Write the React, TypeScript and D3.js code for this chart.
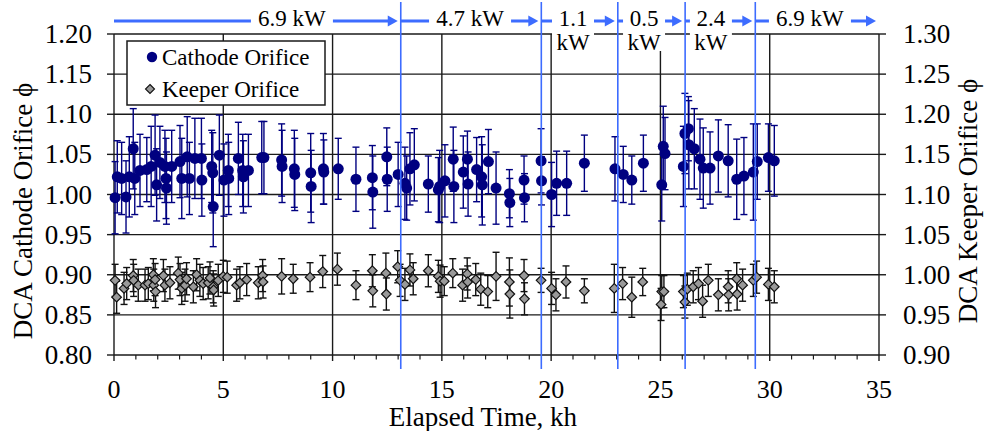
import React from "react";
import * as d3 from "d3";

// ---------- data ----------
const cathodeKh = [0.05,0.15,0.35,0.55,0.7,0.88,0.95,1.19,1.5,1.7,1.88,1.95,2.1,2.33,2.38,2.4,2.64,3.02,3.1,3.35,3.45,3.7,4.0,4.02,4.47,4.52,4.54,4.82,5.03,5.23,5.25,5.69,5.89,5.92,6.15,6.76,6.86,7.67,7.69,8.25,8.27,9.0,9.02,9.58,9.6,10.26,11.07,11.82,11.84,12.48,12.5,13.0,13.31,13.39,13.54,13.74,14.38,14.84,14.9,15.14,15.52,15.55,15.98,16.17,16.2,16.59,16.82,16.85,17.13,17.48,18.09,18.11,18.76,18.78,19.54,19.56,20.02,20.25,20.71,21.52,22.92,23.3,23.69,24.22,25.06,25.13,25.21,26.05,26.12,26.28,26.3,26.55,26.81,26.96,27.27,27.65,28.1,28.49,28.82,29.25,29.43,29.94,30.21];
const cathodePhi = [0.996,1.022,1.02,0.997,1.022,1.057,1.02,1.03,1.031,1.035,1.049,1.012,1.04,1.035,1.02,1.008,1.035,1.041,1.02,1.047,1.02,1.045,1.045,1.018,1.035,1.027,0.985,1.049,1.018,1.03,1.02,1.045,1.03,1.022,1.03,1.046,1.046,1.043,1.035,1.032,1.025,1.027,1.01,1.032,1.028,1.032,1.019,1.021,1.003,1.047,1.019,1.025,1.014,1.008,1.032,1.037,1.013,1.006,1.01,1.017,1.044,1.01,1.028,1.044,1.013,1.031,1.022,1.012,1.041,1.008,1.001,0.99,1.018,0.996,1.042,1.017,1.0,1.014,1.014,1.039,1.032,1.025,1.018,1.039,1.012,1.06,1.051,1.035,1.076,1.082,1.062,1.057,1.044,1.033,1.033,1.048,1.042,1.019,1.023,1.028,1.041,1.046,1.042];
const cathodeErr = [0.045,0.045,0.045,0.045,0.05,0.05,0.045,0.045,0.04,0.05,0.05,0.045,0.045,0.045,0.05,0.045,0.045,0.045,0.05,0.05,0.045,0.05,0.05,0.045,0.045,0.05,0.05,0.05,0.045,0.045,0.045,0.045,0.045,0.045,0.045,0.045,0.045,0.045,0.045,0.048,0.045,0.049,0.045,0.044,0.04,0.038,0.04,0.04,0.045,0.036,0.04,0.04,0.045,0.04,0.045,0.045,0.035,0.04,0.045,0.045,0.04,0.045,0.045,0.035,0.04,0.04,0.05,0.05,0.04,0.045,0.03,0.03,0.03,0.03,0.04,0.03,0.04,0.04,0.04,0.035,0.04,0.035,0.03,0.035,0.045,0.05,0.045,0.05,0.05,0.04,0.055,0.05,0.05,0.05,0.045,0.045,0.045,0.05,0.048,0.06,0.047,0.042,0.044];

const keeperKh = [0.05,0.12,0.46,0.58,0.88,0.9,1.11,1.42,1.57,1.8,1.82,1.88,1.9,2.26,2.33,2.56,2.94,3.02,3.1,3.25,3.32,3.63,3.78,3.93,4.08,4.31,4.39,4.54,4.56,4.77,5.0,5.18,5.61,5.76,6.07,6.6,6.8,6.82,7.67,8.2,8.97,9.55,10.22,11.07,11.82,11.84,12.44,12.46,12.98,13.09,13.31,13.54,13.69,14.38,14.84,14.92,15.11,15.5,15.95,16.16,16.18,16.55,16.78,17.1,17.48,18.09,18.11,18.76,18.78,19.54,20.02,20.22,20.68,21.52,22.89,23.27,23.69,24.19,25.03,25.06,25.16,26.05,26.12,26.23,26.5,26.74,26.93,27.19,27.65,28.1,28.12,28.49,28.51,28.76,29.25,29.4,29.94,30.21];
const keeperPhi = [0.993,0.972,0.983,0.989,0.999,0.993,0.987,0.987,0.989,1.0,0.987,0.994,0.979,0.999,0.987,0.99,1.002,0.994,0.983,0.987,0.995,0.985,1.0,0.993,0.989,0.99,0.996,0.985,0.981,0.993,0.998,0.997,0.987,0.99,0.994,0.99,0.999,0.991,0.998,0.995,0.997,1.004,1.007,0.987,1.005,0.98,1.002,0.976,1.01,0.993,0.988,1.006,0.995,1.005,0.998,0.992,0.992,1.002,0.987,1.001,0.991,0.994,0.982,0.979,0.998,0.991,0.976,0.999,0.97,0.993,0.983,0.975,0.991,0.98,0.983,0.989,0.972,0.991,0.963,0.979,0.979,0.979,0.966,0.982,0.985,0.989,0.967,0.993,0.975,0.985,0.975,0.995,0.976,0.987,0.993,0.997,0.988,0.985];
const keeperErr = [0.02,0.02,0.02,0.02,0.02,0.02,0.02,0.02,0.02,0.02,0.02,0.02,0.02,0.02,0.02,0.02,0.02,0.02,0.02,0.02,0.02,0.02,0.02,0.02,0.02,0.02,0.02,0.02,0.02,0.02,0.02,0.02,0.02,0.02,0.02,0.02,0.02,0.02,0.022,0.018,0.018,0.02,0.02,0.018,0.02,0.02,0.025,0.02,0.02,0.02,0.02,0.02,0.02,0.02,0.02,0.02,0.018,0.018,0.02,0.02,0.02,0.02,0.02,0.02,0.03,0.03,0.03,0.02,0.02,0.015,0.02,0.02,0.02,0.015,0.03,0.02,0.025,0.017,0.02,0.02,0.02,0.02,0.02,0.02,0.02,0.02,0.02,0.02,0.02,0.02,0.02,0.02,0.02,0.02,0.02,0.02,0.02,0.02];

const xTicks = [0, 5, 10, 15, 20, 25, 30, 35];
const yLeftTicks = [0.8, 0.85, 0.9, 0.95, 1.0, 1.05, 1.1, 1.15, 1.2];
const yRightTicks = [0.9, 0.95, 1.0, 1.05, 1.1, 1.15, 1.2, 1.25, 1.3];

const powerChangeKh = [13.12, 19.55, 23.05, 26.13, 29.34];
const powerLabels = [["6.9 kW"], ["4.7 kW"], ["1.1", "kW"], ["0.5", "kW"], ["2.4", "kW"], ["6.9 kW"]];
const powerLabelKh = [8.14, 16.29, 21.0, 24.25, 27.31, 31.84];

// ---------- layout ----------
const W = 984, H = 431;
const x = d3.scaleLinear().domain([0, 35]).range([114, 879]);
const yL = d3.scaleLinear().domain([0.8, 1.2]).range([355, 34]);
const yR = d3.scaleLinear().domain([0.9, 1.3]).range([355, 34]);
const FONT = "Liberation Serif, Tinos, DejaVu Serif, serif";
const BLUE = "#3d6cff";
const NAVY = "#000080";

export default function App() {
  const bounds = [0, ...powerChangeKh, 35];
  const minorTicks = d3.range(0, 36, 1).filter((v) => v % 5 !== 0);
  const arrowY = 21;
  return (
    <div style={{ position: "absolute", left: 0, top: 0 }}>
      <svg width={W} height={H} style={{ display: "block", background: "#fff", fontFamily: FONT }}>
        {/* horizontal gridlines */}
        {yLeftTicks.map((t) => (
          <line key={"h" + t} x1={x(0)} x2={x(35)} y1={yL(t)} y2={yL(t)} stroke="#1a1a1a" strokeWidth={1.4} />
        ))}
        {/* vertical gridlines */}
        {xTicks.map((t) => (
          <line key={"v" + t} x1={x(t)} x2={x(t)} y1={yL(1.2)} y2={yL(0.8)} stroke="#1a1a1a" strokeWidth={1.4} />
        ))}
        {/* axis ticks */}
        {yLeftTicks.map((t) => (
          <line key={"lt" + t} x1={x(0) - 7} x2={x(0)} y1={yL(t)} y2={yL(t)} stroke="#1a1a1a" strokeWidth={1.4} />
        ))}
        {yRightTicks.map((t) => (
          <line key={"rt" + t} x1={x(35)} x2={x(35) + 7} y1={yR(t)} y2={yR(t)} stroke="#1a1a1a" strokeWidth={1.4} />
        ))}
        {xTicks.map((t) => (
          <line key={"xt" + t} x1={x(t)} x2={x(t)} y1={yL(0.8)} y2={yL(0.8) + 6} stroke="#1a1a1a" strokeWidth={1.4} />
        ))}
        {minorTicks.map((t) => (
          <line key={"xm" + t} x1={x(t)} x2={x(t)} y1={yL(0.8)} y2={yL(0.8) + 4.5} stroke="#1a1a1a" strokeWidth={1.2} />
        ))}
        {/* tick labels */}
        {yLeftTicks.map((t) => (
          <text key={"ll" + t} x={92} y={yL(t) + 9} fontSize={27} textAnchor="end" fill="#000">{t.toFixed(2)}</text>
        ))}
        {yRightTicks.map((t) => (
          <text key={"rl" + t} x={903} y={yR(t) + 9} fontSize={27} textAnchor="start" fill="#000">{t.toFixed(2)}</text>
        ))}
        {xTicks.map((t) => (
          <text key={"xl" + t} x={x(t)} y={398} fontSize={26} textAnchor="middle" fill="#000">{t}</text>
        ))}
        {/* axis titles */}
        <text x={483} y={426} fontSize={27} textAnchor="middle">Elapsed Time, kh</text>
        <text transform="translate(32,211) rotate(-90)" fontSize={27} textAnchor="middle">DCA Cathode Orifice ϕ</text>
        <text transform="translate(977,201) rotate(-90)" fontSize={27} textAnchor="middle">DCA Keeper Orifice ϕ</text>

        {/* keeper series */}
        {keeperKh.map((k, i) => {
          const cx = x(k), lo = yR(keeperPhi[i] - keeperErr[i]), hi = yR(keeperPhi[i] + keeperErr[i]);
          return (
            <g key={"ke" + i} stroke="#111" strokeWidth={1.4}>
              <line x1={cx} x2={cx} y1={lo} y2={hi} />
              <line x1={cx - 3.5} x2={cx + 3.5} y1={lo} y2={lo} />
              <line x1={cx - 3.5} x2={cx + 3.5} y1={hi} y2={hi} />
            </g>
          );
        })}
        {keeperKh.map((k, i) => {
          const cx = x(k), cy = yR(keeperPhi[i]), r = 4.8;
          return (
            <path key={"km" + i} d={`M${cx},${cy - r}L${cx + r},${cy}L${cx},${cy + r}L${cx - r},${cy}Z`} fill="#999" stroke="#111" strokeWidth={1.2} />
          );
        })}
        {/* cathode series */}
        {cathodeKh.map((k, i) => {
          const cx = x(k), lo = yL(cathodePhi[i] - cathodeErr[i]), hi = yL(cathodePhi[i] + cathodeErr[i]);
          return (
            <g key={"ce" + i} stroke={NAVY} strokeWidth={1.4}>
              <line x1={cx} x2={cx} y1={lo} y2={hi} />
              <line x1={cx - 3.5} x2={cx + 3.5} y1={lo} y2={lo} />
              <line x1={cx - 3.5} x2={cx + 3.5} y1={hi} y2={hi} />
            </g>
          );
        })}
        {cathodeKh.map((k, i) => (
          <circle key={"cm" + i} cx={x(k)} cy={yL(cathodePhi[i])} r={5.5} fill={NAVY} />
        ))}

        {/* legend */}
        <rect x={127} y={41} width={198} height={64} fill="#fff" stroke="#1a1a1a" strokeWidth={1.5} />
        <circle cx={152} cy={57} r={5.2} fill={NAVY} />
        <text x={162} y={65} fontSize={23}>Cathode Orifice</text>
        <path d="M150,84.5L154.5,89L150,93.5L145.5,89Z" fill="#999" stroke="#111" strokeWidth={1.1} />
        <text x={162} y={97} fontSize={23}>Keeper Orifice</text>

        {/* power change lines */}
        {powerChangeKh.map((k) => (
          <line key={"pc" + k} x1={x(k)} x2={x(k)} y1={2} y2={369} stroke={BLUE} strokeWidth={1.6} />
        ))}
        {/* arrows */}
        {bounds.slice(0, -1).map((b, i) => {
          const x0 = x(b), x1 = x(bounds[i + 1]) - 3;
          return (
            <g key={"ar" + i}>
              <line x1={x0} x2={x1 - 8} y1={arrowY} y2={arrowY} stroke={BLUE} strokeWidth={3} />
              <path d={`M${x1},${arrowY}L${x1 - 10},${arrowY - 5.5}L${x1 - 10},${arrowY + 5.5}Z`} fill={BLUE} />
            </g>
          );
        })}
        {/* power labels */}
        {powerLabels.map((lines, i) => {
          const cx = x(powerLabelKh[i]);
          const two = lines.length > 1;
          const bw = two ? 42 : 82;
          return (
            <g key={"pl" + i}>
              <rect x={cx - bw / 2} y={two ? 5 : 8} width={bw} height={two ? 46 : 22} fill="#fff" />
              {lines.map((l, j) => (
                <text key={j} x={cx} y={26 + j * 24} fontSize={23} textAnchor="middle">{l}</text>
              ))}
            </g>
          );
        })}
      </svg>
    </div>
  );
}
